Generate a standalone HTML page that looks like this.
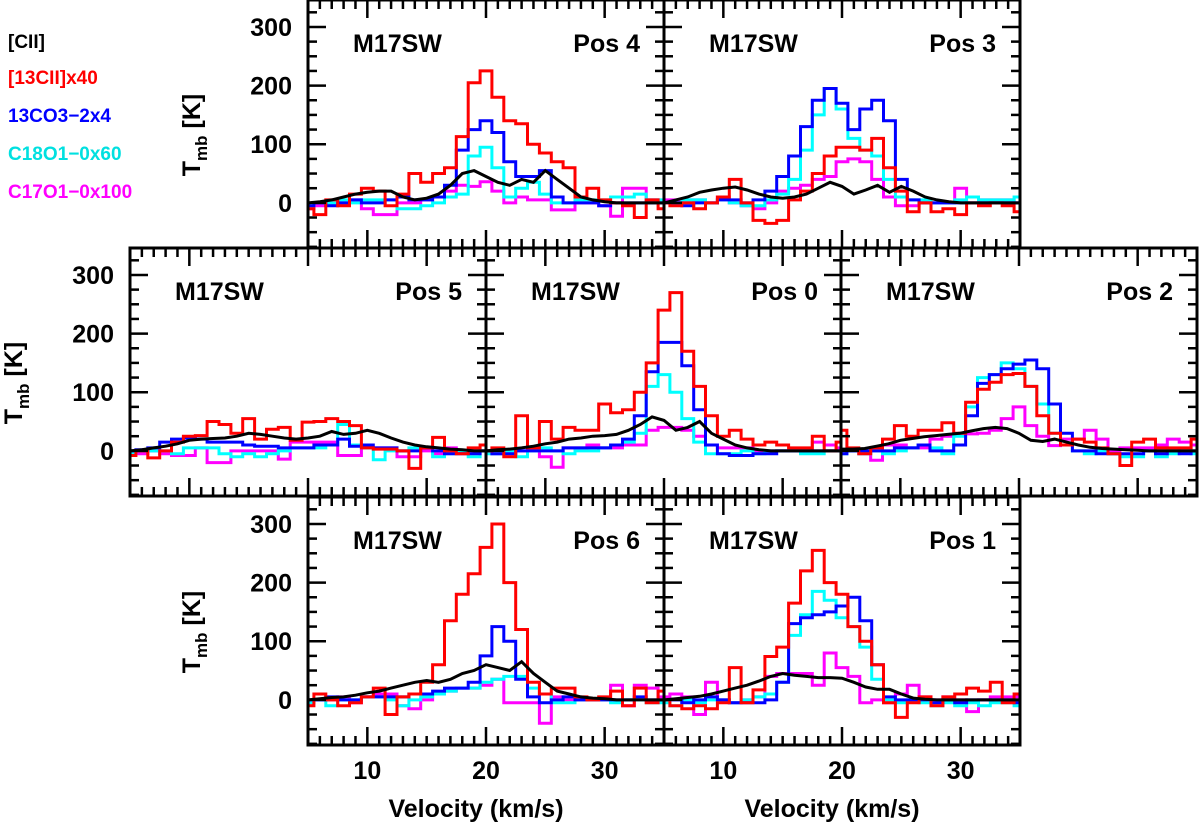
<!DOCTYPE html>
<html><head><meta charset="utf-8">
<style>
html,body{margin:0;padding:0;background:#fff;}
svg{display:block;font-family:"Liberation Sans",Arial,sans-serif;font-weight:bold;}
</style></head>
<body>
<svg id="chart" width="1200" height="835" viewBox="0 0 1200 835" xmlns="http://www.w3.org/2000/svg">
<g font-size="19">
<text x="8" y="48" fill="#000">[CII]</text>
<text x="8" y="84" fill="#ff0000">[13CII]x40</text>
<text x="8" y="122" fill="#0000ff">13CO3−2x4</text>
<text x="8" y="160" fill="#00e0e0">C18O1−0x60</text>
<text x="8" y="198" fill="#ff00ff">C17O1−0x100</text>
</g>
<g id="panels"></g>
</svg>
<script>
const velocityStart = 5;
const velocityStep = 1;
const seriesNames = ["C17O","C18O","13CO","13CII","CII"];
const seriesColors = ["#ff00ff","#00ffff","#0000ff","#ff0000","#000000"];
const xTicks = [10,20,30];
const yTicks = [0,100,200,300];
const panelLabels = ["Pos 4","Pos 3","Pos 5","Pos 0","Pos 2","Pos 6","Pos 1"];

const pos4_c17o = [-10,-5,0,0,5,-10,-20,-20,0,0,5,10,20,30,28,36,20,0,10,5,5,-12,-12,0,0,-5,-23,25,25,5,0];
const pos4_c18o = [-5,0,0,5,0,5,5,5,-10,-10,-5,0,10,15,80,95,60,10,25,35,15,0,0,5,5,5,10,10,15,5,5];
const pos4_13co = [-5,0,-5,0,5,0,0,5,10,5,5,10,30,90,125,140,120,70,45,45,55,10,0,0,0,-5,0,0,0,0,0];
const pos4_13cii = [-10,-20,5,-5,15,25,20,-5,15,50,35,50,60,113,205,225,180,140,135,100,85,70,60,10,25,5,0,-5,-25,5,-10];
const pos4_cii = [0,2,5,10,15,18,20,20,10,5,8,15,30,50,55,45,35,30,40,35,55,40,25,10,5,2,0,0,0,0,0];

const pos3_c17o = [5,5,5,5,0,10,0,-5,-10,0,20,25,30,40,45,70,75,70,40,10,-5,-5,0,0,0,25,10,5,5,5,0];
const pos3_c18o = [0,0,5,5,0,5,0,-5,-5,5,15,40,90,150,195,160,110,90,80,40,10,5,5,0,0,5,10,5,5,5,10];
const pos3_13co = [0,0,-5,0,0,5,5,0,5,20,45,80,130,175,195,170,125,160,175,140,40,5,0,0,0,0,0,0,0,0,0];
const pos3_13cii = [0,-5,0,-10,0,10,40,0,-30,-35,-30,5,20,50,80,95,95,90,110,60,20,-15,0,-15,-10,-20,0,-5,0,-5,-15];
const pos3_cii = [0,5,10,18,22,25,27,22,15,10,8,10,15,25,35,28,15,22,30,18,28,20,10,5,2,0,0,0,0,0,0];

const pos5_c17o = [0,-5,0,-5,-8,-8,5,-20,-20,0,0,0,0,-14,15,15,15,15,-8,-8,5,5,5,-10,-10,0,-5,5,0,0,0];
const pos5_c18o = [-5,0,0,0,-5,5,5,5,-5,-10,-5,-10,-5,0,5,5,5,10,45,10,5,-15,0,0,5,5,-10,-5,0,-10,0];
const pos5_13co = [0,2,5,15,20,22,20,15,15,15,10,8,8,5,5,5,10,10,20,8,10,5,5,0,0,5,0,-5,-5,-5,0];
const pos5_13cii = [-8,0,-12,0,15,25,26,50,45,30,55,20,37,40,18,49,50,55,50,43,5,3,3,0,-30,5,23,0,-5,5,10];
const pos5_cii = [0,2,5,8,12,18,20,21,22,25,30,28,25,22,20,22,25,33,28,30,35,30,22,15,10,7,5,3,2,0,0];

const pos0_c17o = [0,-5,-5,0,5,-10,-28,5,5,10,5,5,10,10,35,40,40,35,25,10,5,5,5,0,0,0,0,0,15,10,5];
const pos0_c18o = [-5,-5,0,-10,0,5,0,-5,0,0,5,10,15,30,110,130,100,55,15,-5,-5,-5,0,-5,0,0,0,-5,-5,0,0];
const pos0_13co = [0,-5,-5,0,0,0,0,5,5,5,5,10,20,60,135,185,185,145,70,10,-5,-8,-8,-5,-5,0,0,0,0,0,0];
const pos0_13cii = [0,5,-10,60,5,50,20,40,35,35,80,65,70,100,150,240,270,170,110,60,25,35,20,10,15,10,5,5,25,0,15];
const pos0_cii = [0,2,3,5,8,12,15,20,22,25,26,28,35,45,58,52,35,40,50,30,20,10,5,2,0,0,0,0,0,0,0];

const pos2_c17o = [0,0,-5,-16,10,10,5,5,20,25,29,29,30,35,55,75,43,25,9,20,20,35,20,0,5,5,5,10,20,15,10];
const pos2_c18o = [-5,0,-5,0,-5,0,5,10,5,-5,25,75,125,130,150,140,110,80,30,10,0,-5,0,-5,-10,-10,0,-10,-5,0,-5];
const pos2_13co = [-5,0,0,0,0,5,5,10,0,0,10,60,115,130,140,148,155,140,80,30,0,0,-5,-5,-5,-5,0,-5,0,-5,0];
const pos2_13cii = [35,5,-5,5,20,43,25,35,35,48,30,83,105,117,130,132,110,60,30,10,20,15,5,-5,-25,15,20,5,5,5,20];
const pos2_cii = [3,3,4,8,12,18,21,24,26,28,30,34,38,40,38,30,18,16,20,15,10,6,4,3,2,1,0,0,0,0,0];

const pos6_c17o = [-5,0,0,5,-5,5,10,10,-10,-15,0,10,15,20,20,25,35,-5,-5,-5,-40,5,0,0,0,0,25,-10,25,20,5];
const pos6_c18o = [-5,0,-10,0,0,5,5,0,-10,0,5,10,15,20,20,30,35,40,40,20,10,-5,-5,0,0,0,-5,0,0,-5,-5];
const pos6_13co = [0,0,5,0,0,5,5,5,5,10,10,15,20,20,30,75,125,100,35,5,-5,0,5,0,0,0,0,0,5,0,0];
const pos6_13cii = [-10,10,0,-10,-5,5,20,-25,5,10,30,60,135,180,215,260,300,200,120,30,10,20,20,5,0,5,15,-10,20,-5,15];
const pos6_cii = [0,2,4,5,8,12,15,20,25,30,33,30,35,45,50,60,55,50,65,45,30,15,10,5,3,2,0,0,0,0,0];

const pos1_c17o = [5,10,5,-25,30,0,-5,0,5,40,45,45,45,25,80,55,40,-5,0,-5,10,25,5,0,5,0,-20,0,5,5,5];
const pos1_c18o = [-5,-10,0,-5,0,0,-5,0,5,10,30,110,145,185,170,140,125,90,35,0,-5,0,-5,-10,-5,-10,-5,-10,-5,-5,-10];
const pos1_13co = [0,0,-5,0,5,0,-5,-5,-5,0,30,130,140,145,150,160,175,135,60,5,0,0,0,-5,0,-5,0,0,0,0,-5];
const pos1_13cii = [0,-10,-15,-10,-15,-5,55,-5,17,74,90,165,220,255,200,180,125,100,60,-5,-30,-5,5,-10,5,10,20,15,30,-5,10];
const pos1_cii = [0,2,4,6,10,15,20,25,32,40,45,42,40,38,38,37,30,22,18,18,10,3,1,0,0,0,0,0,0,0,0];

const panelSeries = [
 [pos4_c17o,pos4_c18o,pos4_13co,pos4_13cii,pos4_cii],
 [pos3_c17o,pos3_c18o,pos3_13co,pos3_13cii,pos3_cii],
 [pos5_c17o,pos5_c18o,pos5_13co,pos5_13cii,pos5_cii],
 [pos0_c17o,pos0_c18o,pos0_13co,pos0_13cii,pos0_cii],
 [pos2_c17o,pos2_c18o,pos2_13co,pos2_13cii,pos2_cii],
 [pos6_c17o,pos6_c18o,pos6_13co,pos6_13cii,pos6_cii],
 [pos1_c17o,pos1_c18o,pos1_13co,pos1_13cii,pos1_cii]
];

const layout = [
 {x:308,y:0,yl:true,xl:false},{x:664,y:0,yl:false,xl:false},
 {x:130,y:248,yl:true,xl:false},{x:486,y:248,yl:false,xl:false},{x:841,y:248,yl:false,xl:false},
 {x:308,y:497,yl:true,xl:true},{x:664,y:497,yl:false,xl:true}
];
const PW=356, PH=248, XMIN=5, XMAX=35, YMIN=-77, YMAX=346;
const NS="http://www.w3.org/2000/svg";
const root=document.getElementById('panels');
function mk(tag,attrs,parent){const e=document.createElementNS(NS,tag);for(const k in attrs)e.setAttribute(k,attrs[k]);parent.appendChild(e);return e;}

layout.forEach((L,pi)=>{
  const sx=v=>L.x+(v-XMIN)/(XMAX-XMIN)*PW;
  const sy=t=>L.y+(YMAX-t)/(YMAX-YMIN)*PH;
  const g=mk('g',{},root);
  
  
  const bg=mk('rect',{x:L.x,y:L.y,width:PW,height:PH,fill:'#fff'},g);
  
  
  const cid='clip'+pi;
  const cp=mk('clipPath',{id:cid},g);
  mk('rect',{x:L.x,y:L.y,width:PW,height:PH},cp);
  const dg=mk('g',{'clip-path':'url(#'+cid+')'},g);
  panelSeries[pi].forEach((arr,si)=>{
    let d='';
    if(si===4){
      arr.forEach((t,i)=>{const v=velocityStart+i*velocityStep;d+=(i?'L':'M')+sx(v).toFixed(1)+','+sy(t).toFixed(1);});
    } else {
      arr.forEach((t,i)=>{const v=velocityStart+i*velocityStep;const x0=sx(v-velocityStep/2),x1=sx(v+velocityStep/2),y=sy(t);
        d+=(i?'L':'M')+x0.toFixed(1)+','+y.toFixed(1)+'L'+x1.toFixed(1)+','+y.toFixed(1);});
    }
    const p=mk('path',{d:d,fill:'none',stroke:seriesColors[si],'stroke-width':3,'stroke-linejoin':'miter'},dg);
    
    
  });
  const tg=mk('g',{stroke:'#000','stroke-width':2.5},g);
  
  
  for(let v=XMIN+1;v<XMAX;v++){
    const major=xTicks.includes(v), len=major?18:9, x=sx(v);
    mk('line',{x1:x,y1:L.y+PH,x2:x,y2:L.y+PH-len},tg);
    mk('line',{x1:x,y1:L.y,x2:x,y2:L.y+len},tg);
  }
  for(let t=-75;t<=YMAX;t+=25){
    const major=yTicks.includes(t), len=major?18:9, y=sy(t);
    mk('line',{x1:L.x,y1:y,x2:L.x+len,y2:y},tg);
    mk('line',{x1:L.x+PW,y1:y,x2:L.x+PW-len,y2:y},tg);
  }
  const fr=mk('rect',{x:L.x,y:L.y,width:PW,height:PH,fill:'none',stroke:'#000','stroke-width':3},g);
  
  
  const t1=mk('text',{x:L.x+45,y:L.y+52,'font-size':25},g);t1.textContent='M17SW';
  
  
  const t2=mk('text',{x:L.x+PW-24,y:L.y+52,'font-size':25,'text-anchor':'end'},g);t2.textContent=panelLabels[pi];
  
  
  if(L.yl){
    yTicks.forEach(t=>{const e=mk('text',{x:L.x-16,y:sy(t)+9,'font-size':25,'text-anchor':'end'},g);e.textContent=t;
      
      });
    const yt=mk('text',{transform:'translate('+(L.x-108)+','+(L.y+135)+') rotate(-90)','font-size':25,'text-anchor':'middle'},g);
    
    
    yt.innerHTML='T<tspan font-size="17" dy="7">mb</tspan><tspan dy="-7"> [K]</tspan>';
  }
  if(L.xl){
    xTicks.forEach(v=>{const e=mk('text',{x:sx(v),y:L.y+PH+34,'font-size':25,'text-anchor':'middle'},g);e.textContent=v;
      
      });
    const xt=mk('text',{x:L.x+PW/2-10,y:L.y+PH+72,'font-size':25,'text-anchor':'middle'},g);xt.textContent='Velocity (km/s)';
    
    
  }
});
</script>
</body></html>
